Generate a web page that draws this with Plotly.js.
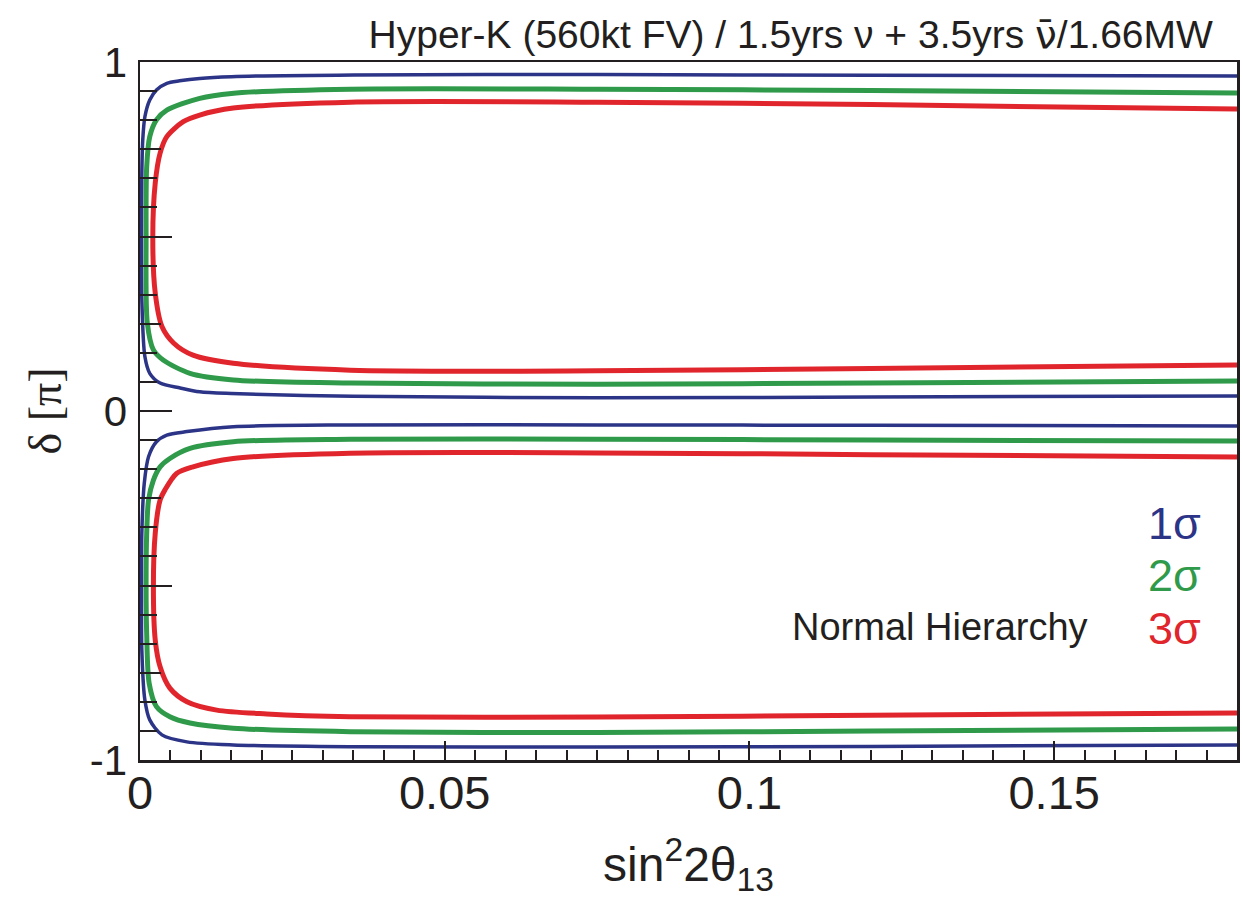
<!DOCTYPE html>
<html>
<head>
<meta charset="utf-8">
<script src="https://cdn.plot.ly/plotly-3.0.1.min.js"></script>
<style>html,body{margin:0;padding:0;background:#fff;}#chart{width:1242px;height:904px;}</style>
</head>
<body>
<div id="chart"></div>
<script>
// sin^2 2theta13 (x) and delta [pi] (y) for each contour, traced from right-top, around the left edge, to right-bottom
const sigma1UpperX = [0.18, 0.12, 0.075, 0.035, 0.015, 0.0098, 0.0065, 0.0044, 0.0027, 0.0016, 0.0008, 0.00045, 0.0003, 0.00025, 0.0003, 0.0008, 0.0016, 0.0033, 0.0066, 0.0098, 0.015, 0.035, 0.075, 0.12, 0.18];
const sigma1UpperY = [0.960, 0.962, 0.964, 0.963, 0.958, 0.953, 0.946, 0.939, 0.920, 0.891, 0.843, 0.776, 0.68, 0.5, 0.32, 0.156, 0.108, 0.080, 0.066, 0.055, 0.050, 0.042, 0.038, 0.040, 0.043];

const sigma2UpperX = [0.18, 0.12, 0.075, 0.0345, 0.015, 0.0098, 0.0044, 0.0027, 0.0016, 0.0011, 0.001, 0.0012, 0.0022, 0.0038, 0.0082, 0.0153, 0.0345, 0.075, 0.12, 0.18];
const sigma2UpperY = [0.911, 0.918, 0.922, 0.922, 0.910, 0.896, 0.862, 0.834, 0.786, 0.70, 0.5, 0.252, 0.175, 0.146, 0.108, 0.089, 0.080, 0.077, 0.080, 0.086];

const sigma3UpperX = [0.18, 0.12, 0.075, 0.0345, 0.0153, 0.0098, 0.0071, 0.0044, 0.0033, 0.0025, 0.0021, 0.0025, 0.0036, 0.0055, 0.0087, 0.0153, 0.0345, 0.075, 0.12, 0.18];
const sigma3UpperY = [0.865, 0.878, 0.885, 0.885, 0.868, 0.848, 0.829, 0.786, 0.739, 0.653, 0.50, 0.338, 0.242, 0.195, 0.160, 0.137, 0.117, 0.115, 0.122, 0.132];

const sigma1LowerX = [0.18, 0.12, 0.075, 0.0345, 0.0153, 0.0077, 0.0044, 0.0027, 0.0014, 0.0007, 0.0003, 0.00025, 0.0003, 0.0008, 0.0016, 0.0036, 0.0077, 0.0153, 0.0345, 0.075, 0.12, 0.18];
const sigma1LowerY = [-0.043, -0.041, -0.040, -0.040, -0.045, -0.059, -0.069, -0.088, -0.131, -0.207, -0.35, -0.5, -0.685, -0.828, -0.885, -0.928, -0.948, -0.957, -0.962, -0.963, -0.961, -0.957];

const sigma2LowerX = [0.18, 0.12, 0.075, 0.0345, 0.0153, 0.0082, 0.0049, 0.0033, 0.0022, 0.0014, 0.0011, 0.001, 0.0011, 0.0015, 0.0027, 0.0049, 0.0082, 0.0153, 0.0345, 0.075, 0.12, 0.18];
const sigma2LowerY = [-0.086, -0.083, -0.081, -0.081, -0.088, -0.107, -0.136, -0.160, -0.198, -0.255, -0.35, -0.5, -0.64, -0.78, -0.847, -0.876, -0.894, -0.909, -0.919, -0.921, -0.917, -0.911];

const sigma3LowerX = [0.18, 0.12, 0.075, 0.0345, 0.0153, 0.0087, 0.006, 0.0041, 0.0033, 0.0025, 0.0022, 0.0025, 0.0033, 0.0049, 0.0077, 0.0126, 0.0208, 0.0345, 0.075, 0.12, 0.18];
const sigma3LowerY = [-0.132, -0.125, -0.120, -0.121, -0.136, -0.160, -0.179, -0.226, -0.255, -0.350, -0.503, -0.656, -0.733, -0.794, -0.833, -0.857, -0.868, -0.876, -0.877, -0.872, -0.865];

const xTickVals = [0, 0.05, 0.1, 0.15];
const yTickVals = [-1, 0, 1];
const yTickText = ['-1', '0', '1'];
const yHalfTickVals = [-0.5, 0.5];
const yQuarterTickVals = [-0.75, -0.25, 0.25, 0.75];
const sigmaLabels = ['1σ', '2σ', '3σ'];
const hierarchyLabel = 'Normal Hierarchy';

const BLUE = '#2b3486', GREEN = '#2f9a4a', RED = '#e0262c', INK = '#231f20';
const FONT = '"Liberation Sans", Arial, Helvetica, sans-serif';

function line(x, y, color, width) {
  return {x: x, y: y, type: 'scatter', mode: 'lines', showlegend: false, hoverinfo: 'skip',
          line: {color: color, width: width, shape: 'spline', smoothing: 0.8}};
}

const traces = [
  line(sigma1UpperX, sigma1UpperY, BLUE, 3.5),
  line(sigma1LowerX, sigma1LowerY, BLUE, 3.5),
  line(sigma2UpperX, sigma2UpperY, GREEN, 5),
  line(sigma2LowerX, sigma2LowerY, GREEN, 5),
  line(sigma3UpperX, sigma3UpperY, RED, 5),
  line(sigma3LowerX, sigma3LowerY, RED, 5)
];
// invisible traces to carry the overlay y axes that draw the extra tick lengths
traces.push({x: [0], y: [0], yaxis: 'y2', type: 'scatter', mode: 'markers', marker: {opacity: 0}, showlegend: false, hoverinfo: 'skip'});
traces.push({x: [0], y: [0], yaxis: 'y3', type: 'scatter', mode: 'markers', marker: {opacity: 0}, showlegend: false, hoverinfo: 'skip'});

const layout = {
  width: 1242, height: 904,
  margin: {l: 140, r: 5, t: 62, b: 144},
  paper_bgcolor: '#ffffff', plot_bgcolor: '#ffffff',
  font: {family: FONT, color: INK},
  showlegend: false,
  title: {
    text: 'Hyper-K (560kt FV) / 1.5yrs ν + 3.5yrs <span style="font-family:\'DejaVu Sans\'">ν\u0304</span>/1.66MW',
    font: {family: FONT, size: 39, color: INK},
    x: 0.978, xanchor: 'right', xref: 'paper',
    y: 0.962, yanchor: 'middle', yref: 'container'
  },
  xaxis: {
    range: [0, 0.18], showgrid: false, zeroline: false,
    showline: true, linecolor: INK, linewidth: 2.5, mirror: true,
    tickmode: 'array', tickvals: xTickVals,
    ticks: 'inside', ticklen: 19, tickwidth: 2, tickcolor: INK,
    minor: {tickmode: 'linear', tick0: 0, dtick: 0.005, ticks: 'inside', ticklen: 10, tickwidth: 2, tickcolor: INK, showgrid: false},
    tickfont: {family: FONT, size: 47, color: INK},
    ticklabelstandoff: -10,
    title: {text: 'sin<sup>2</sup>2θ<sub>13</sub>', font: {family: FONT, size: 48, color: INK}, standoff: 30}
  },
  yaxis: {
    range: [-1, 1], showgrid: false, zeroline: false,
    showline: true, linecolor: INK, linewidth: 2.5, mirror: true,
    tickmode: 'array', tickvals: yTickVals, ticktext: yTickText,
    ticks: 'inside', ticklen: 32, tickwidth: 2, tickcolor: INK,
    minor: {tickmode: 'linear', tick0: 0, dtick: 1/12, ticks: 'inside', ticklen: 17, tickwidth: 2, tickcolor: INK, showgrid: false},
    tickfont: {family: FONT, size: 42, color: INK},
    ticklabelstandoff: 2,
    title: {text: 'δ [π]', font: {family: '"Liberation Serif", "Times New Roman", serif', size: 46, color: INK}, standoff: 14}
  },
  yaxis2: {
    range: [-1, 1], overlaying: 'y', side: 'left', anchor: 'x',
    showgrid: false, zeroline: false, showline: false,
    tickmode: 'array', tickvals: yHalfTickVals, showticklabels: false,
    ticks: 'inside', ticklen: 32, tickwidth: 2, tickcolor: INK
  },
  yaxis3: {
    range: [-1, 1], overlaying: 'y', side: 'left', anchor: 'x',
    showgrid: false, zeroline: false, showline: false,
    tickmode: 'array', tickvals: yQuarterTickVals, showticklabels: false,
    ticks: 'inside', ticklen: 21, tickwidth: 2, tickcolor: INK
  },
  annotations: [
    {text: sigmaLabels[0], xref: 'paper', yref: 'paper', x: 0.969, y: 0.3395, xanchor: 'right', yanchor: 'middle', showarrow: false, font: {family: FONT, size: 45, color: BLUE}},
    {text: sigmaLabels[1], xref: 'paper', yref: 'paper', x: 0.969, y: 0.2650, xanchor: 'right', yanchor: 'middle', showarrow: false, font: {family: FONT, size: 45, color: GREEN}},
    {text: sigmaLabels[2], xref: 'paper', yref: 'paper', x: 0.969, y: 0.1891, xanchor: 'right', yanchor: 'middle', showarrow: false, font: {family: FONT, size: 45, color: RED}},
    {text: hierarchyLabel, xref: 'paper', yref: 'paper', x: 0.8660, y: 0.1900, xanchor: 'right', yanchor: 'middle', showarrow: false, font: {family: FONT, size: 38, color: INK}}
  ]
};

Plotly.newPlot('chart', traces, layout, {displayModeBar: false, staticPlot: true});
</script>
</body>
</html>
